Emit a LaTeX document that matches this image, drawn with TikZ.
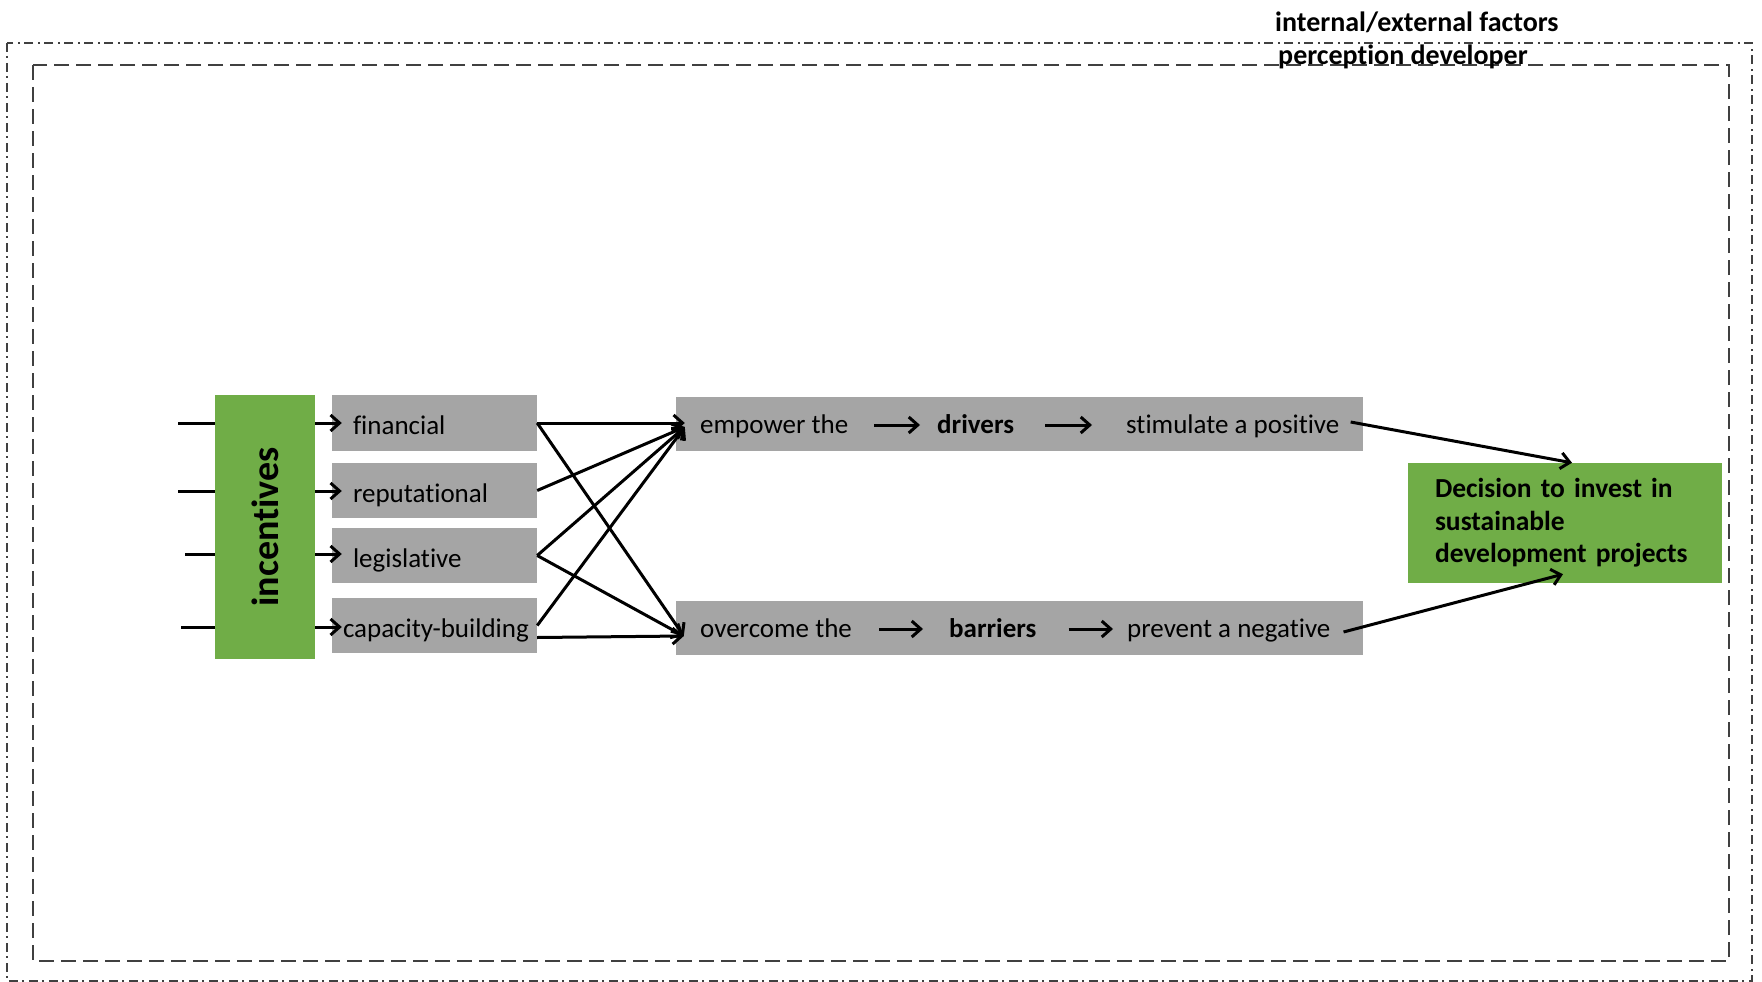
\documentclass[tikz,border=0pt]{standalone}
\usepackage{fontspec}
\usepackage{graphicx}
\setmainfont{Carlito}[Ligatures=NoCommon]
\usetikzlibrary{arrows.meta,calc}
\definecolor{grn}{HTML}{70AD47}
\definecolor{gry}{HTML}{A5A5A5}
\definecolor{frm}{HTML}{404040}
\newcommand\bxf{\fontsize{27pt}{32pt}\selectfont}
\newcommand\decf{\fontsize{27.5pt}{32.5pt}\selectfont\bfseries}
\newcommand\ttlf{\fontsize{28pt}{33pt}\selectfont\bfseries}
\newcommand\incf{\fontsize{38pt}{40pt}\selectfont\bfseries}
\begin{document}
\begin{tikzpicture}[x=1pt,y=-1pt,
  gbox/.style={fill=gry,draw=none,rectangle,inner sep=0pt},
  lbox/.style={gbox,minimum width=205pt,align=left,font=\bxf,text height=23pt,text depth=0pt},
  greenbox/.style={fill=grn,draw=none,rectangle,inner sep=0pt},
  txt/.style={inner sep=0pt,anchor=base west,font=\bxf},
  ln/.style={line width=3pt,black},
  arr/.style={line width=3pt,black,-{Straight Barb[length=9pt,width=16pt]}},
  outerframe/.style={draw=frm,line width=2pt,dash pattern=on 9pt off 4pt on 2pt off 5pt},
  innerframe/.style={draw=frm,line width=2.5pt,dash pattern=on 15pt off 7pt}]
\useasboundingbox (0,0) rectangle (1762,982);
% frames
\draw[outerframe] (7,43) rectangle (1752,981);
\draw[innerframe] (33,65) rectangle (1729,961);
\node[inner sep=0pt,anchor=base west,font=\ttlf] (ttl1) at (1275,31.5) {internal/external factors};
\node[inner sep=0pt,anchor=base west,font=\ttlf] (ttl2) at (1278,64.5) {perception developer};
% incentives
\node[greenbox,minimum width=100pt,minimum height=264pt,font=\incf] (inc) at (265,527) {\rotatebox{90}{incentives}};
% left gray boxes
\node[lbox,minimum height=56pt,text width=163pt,inner xsep=21pt] (fin) at (434.5,423) {financial};
\node[lbox,minimum height=55pt,text width=163pt,inner xsep=21pt] (rep) at (434.5,490.5) {reputational};
\node[lbox,minimum height=55pt,text width=163pt,inner xsep=21pt] (leg) at (434.5,555.5) {legislative};
\node[lbox,minimum height=55pt,text width=183pt,inner xsep=11pt] (cap) at (434.5,625.5) {\mbox{capacity-building}};
% input lines
\coordinate (i1) at (178,423);
\coordinate (i2) at (178,491);
\coordinate (i3) at (185,554);
\coordinate (i4) at (181,627);
\draw[ln] (i1) -- (i1 -| inc.west);
\draw[ln] (i2) -- (i2 -| inc.west);
\draw[ln] (i3) -- (i3 -| inc.west);
\draw[ln] (i4) -- (i4 -| inc.west);
\draw[arr] (inc.east |- i1) -- ($(fin.west |- i1)+(10,0)$);
\draw[arr] (inc.east |- i2) -- ($(rep.west |- i2)+(10,0)$);
\draw[arr] (inc.east |- i3) -- ($(leg.west |- i3)+(10,0)$);
\draw[arr] (inc.east |- i4) -- ($(cap.west |- i4)+(10,0)$);
% middle long boxes
\node[gbox,minimum width=687pt,minimum height=54pt] (top) at (1019.5,424) {};
\node[gbox,minimum width=687pt,minimum height=54pt] (bot) at (1019.5,628) {};
\node[txt] (t1) at (700,433) {empower the};
\node[txt,font=\bxf\bfseries] (t2) at (937,433) {drivers};
\node[txt] (t3) at (1126,433) {stimulate a positive};
\node[txt] (b1) at (700,637) {overcome the};
\node[txt,font=\bxf\bfseries] (b2) at (949,637) {barriers};
\node[txt] (b3) at (1127,637) {prevent a negative};
\draw[arr] ($(t1.east |- top.center)+(26,1)$) -- ($(t2.west |- top.center)+(-17,1)$);
\draw[arr] ($(t2.east |- top.center)+(31,1)$) -- ($(t3.west |- top.center)+(-34,1)$);
\draw[arr] ($(b1.east |- bot.center)+(27,1)$) -- ($(b2.west |- bot.center)+(-26,1)$);
\draw[arr] ($(b2.east |- bot.center)+(32,1)$) -- ($(b3.west |- bot.center)+(-14,1)$);
% crossing connectors
\coordinate (ein) at ($(top.west)+(9,3)$);
\coordinate (oin) at ($(bot.west)+(8,8)$);
\draw[arr] (fin.east) -- (fin.east -| ein);
\draw[arr] (fin.east) -- (oin);
\draw[arr] (rep.east) -- (ein);
\draw[arr] (leg.east) -- (ein);
\draw[arr] (leg.east) -- (oin);
\draw[arr] (cap.east) -- (ein);
\draw[arr] ($(cap.east)+(0,12)$) -- (oin);
% decision
\node[greenbox,minimum width=314pt,minimum height=120pt,text width=260pt,inner xsep=27pt,align=left,font=\decf] (dec) at (1565,523) {Decision to invest in\\sustainable\\development projects};
\draw[arr] ($(t3.east |- top.center)+(11,-2)$) -- ($(dec.north)+(7,0)$);
\draw[arr] ($(b3.east |- bot.center)+(13,4)$) -- ($(dec.south)+(-2,-9)$);
\end{tikzpicture}
\end{document}
